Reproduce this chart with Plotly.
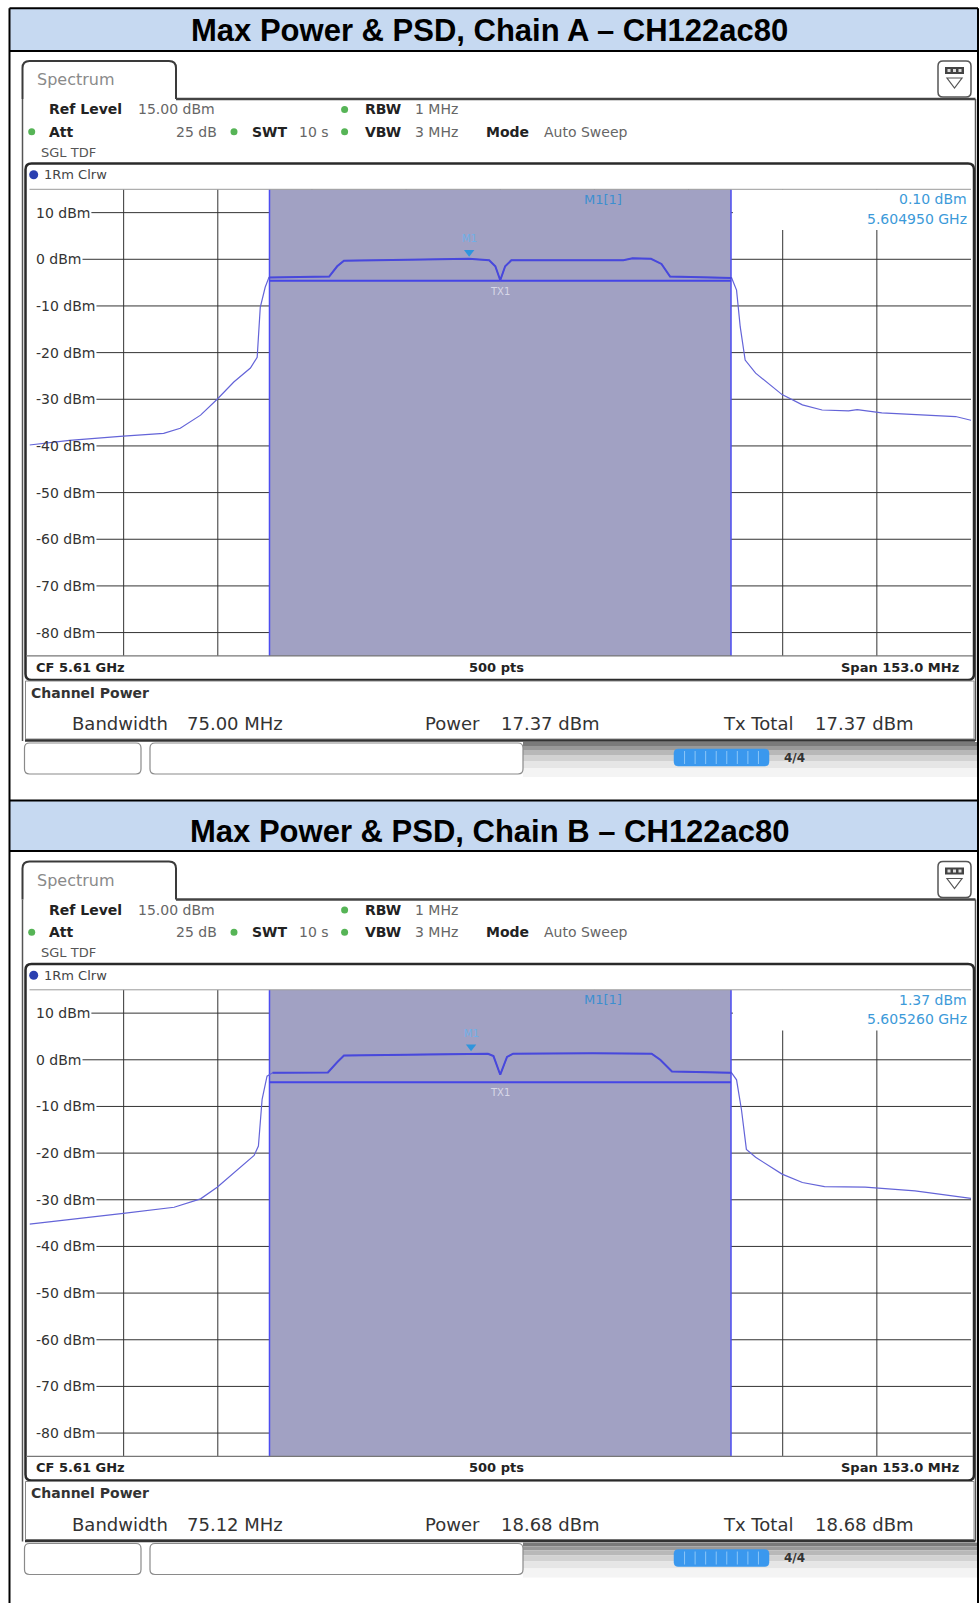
import numpy as np
import plotly.graph_objects as go

W, H = 979, 1603

# ---------------- data ----------------
CF_GHZ = 5.61
SPAN_MHZ = 153.0
REF_LEVEL = 15.0
BOTTOM_LEVEL = -85.0
CHANNEL_BW_MHZ = 75.0

Y_TICKS = [10, 0, -10, -20, -30, -40, -50, -60, -70, -80]
Y_TICK_LABELS = ["10 dBm", "0 dBm", "-10 dBm", "-20 dBm", "-30 dBm",
                 "-40 dBm", "-50 dBm", "-60 dBm", "-70 dBm", "-80 dBm"]

TITLES = ["Max Power & PSD, Chain A – CH122ac80",
          "Max Power & PSD, Chain B – CH122ac80"]

# trace, chain A (offset from CF in MHz, level in dBm)
FREQ_A = [-76.5, -70.0, -61.25, -54.7, -52.0, -48.7, -46.0, -43.3, -40.6, -39.5,
          -39.0, -38.2, -37.6, -32.0, -27.8, -26.5, -25.4, -15.0, -5.1, -1.8,
          -0.8, 0.0, 0.8, 1.8, 12.0, 20.0, 21.5, 24.5, 26.2, 27.6,
          37.6, 38.4, 39.0, 39.8, 41.5, 45.8, 49.1, 52.3, 56.6, 58.0,
          62.0, 69.0, 74.0, 76.5]
LEVEL_A = [-39.8, -38.8, -37.9, -37.3, -36.2, -33.4, -30.0, -26.3, -23.3, -21.0,
           -10.3, -6.0, -3.9, -3.8, -3.7, -1.5, -0.3, -0.1, 0.1, -0.2,
           -1.5, -4.5, -1.5, -0.2, -0.2, -0.2, 0.2, 0.1, -1.0, -3.7,
           -4.0, -6.6, -14.5, -21.6, -24.4, -29.0, -31.2, -32.3, -32.5, -32.2,
           -32.9, -33.4, -33.7, -34.5]

# trace, chain B
FREQ_B = [-76.5, -68.0, -61.25, -53.0, -48.7, -46.0, -43.3, -40.0, -39.3, -38.7,
          -37.9, -37.0, -28.0, -26.5, -25.4, -15.0, -4.7, -2.0, -1.1, 0.0,
          1.1, 2.1, 15.0, 24.6, 26.0, 27.9, 37.6, 38.4, 39.2, 40.0,
          41.5, 45.8, 49.1, 52.7, 59.3, 67.4, 76.5]
LEVEL_B = [-35.2, -34.0, -32.9, -31.6, -29.8, -27.3, -24.3, -20.5, -18.5, -8.5,
           -3.5, -2.8, -2.7, -0.5, 0.9, 1.1, 1.37, 1.3, 0.8, -3.2,
           0.6, 1.3, 1.4, 1.3, 0.0, -2.5, -2.8, -4.3, -10.7, -19.2,
           -20.9, -24.5, -26.3, -27.2, -27.3, -28.1, -29.7]

CHANNEL_LINE = [-4.6, -4.8]           # dBm, channel-power bar level
MARKER_FREQ_GHZ = [5.604950, 5.605260]
MARKER_LEVEL = [0.10, 1.37]
MARKER_LEVEL_TXT = ["0.10 dBm", "1.37 dBm"]
MARKER_FREQ_TXT = ["5.604950 GHz", "5.605260 GHz"]

BANDWIDTH_TXT = ["75.00 MHz", "75.12 MHz"]
POWER_TXT = ["17.37 dBm", "18.68 dBm"]
TX_TOTAL_TXT = ["17.37 dBm", "18.68 dBm"]

SETTINGS = {"ref": "15.00 dBm", "rbw": "1 MHz", "att": "25 dB", "swt": "10 s",
            "vbw": "3 MHz", "mode": "Auto Sweep"}

FREQS = [FREQ_A, FREQ_B]
LEVELS = [LEVEL_A, LEVEL_B]

# ---------------- layout helpers ----------------
DY = [0.0, 800.5]
PLOT_L, PLOT_R = 29.5, 971.0
PLOT_T, PLOT_B = 189.3, 655.9
TABLE_R = 978.0


def X(p):
    return p / W


def Y(p):
    return 1 - p / H


shapes = []
annotations = []
FONT = "DejaVu Sans"


def rect(x0, y0, x1, y1, fill="rgba(0,0,0,0)", lc="rgba(0,0,0,0)", lw=0):
    shapes.append(dict(type="rect", xref="paper", yref="paper", x0=X(x0), x1=X(x1),
                       y0=Y(y1), y1=Y(y0), fillcolor=fill, line=dict(color=lc, width=lw),
                       layer="above"))


def line(x0, y0, x1, y1, color, lw):
    shapes.append(dict(type="line", xref="paper", yref="paper", x0=X(x0), x1=X(x1),
                       y0=Y(y0), y1=Y(y1), line=dict(color=color, width=lw), layer="above"))


def rrect(x0, y0, x1, y1, r, lc, lw, fill="white"):
    p = (f"M {X(x0+r)},{Y(y0)} L {X(x1-r)},{Y(y0)} Q {X(x1)},{Y(y0)} {X(x1)},{Y(y0+r)} "
         f"L {X(x1)},{Y(y1-r)} Q {X(x1)},{Y(y1)} {X(x1-r)},{Y(y1)} L {X(x0+r)},{Y(y1)} "
         f"Q {X(x0)},{Y(y1)} {X(x0)},{Y(y1-r)} L {X(x0)},{Y(y0+r)} Q {X(x0)},{Y(y0)} {X(x0+r)},{Y(y0)} Z")
    shapes.append(dict(type="path", xref="paper", yref="paper", path=p, fillcolor=fill,
                       line=dict(color=lc, width=lw), layer="above"))


def circle(cx, cy, r, color):
    shapes.append(dict(type="circle", xref="paper", yref="paper", x0=X(cx-r), x1=X(cx+r),
                       y0=Y(cy+r), y1=Y(cy-r), fillcolor=color, line=dict(width=0), layer="above"))


def text(x, y, s, size=14, color="#333333", anchor="left", bold=False, family=FONT):
    annotations.append(dict(xref="paper", yref="paper", x=X(x), y=Y(y), text=(f"<b>{s}</b>" if bold else s),
                            showarrow=False, xanchor=anchor, yanchor="middle",
                            font=dict(family=family, size=size, color=color)))


DJ = {"0": .636, "1": .636, "2": .636, "3": .636, "4": .636, "5": .636, "6": .636, "7": .636,
      "8": .636, "9": .636, "-": .361, " ": .318, "d": .635, "B": .686, "m": .974}


def tw(s, size):
    return sum(DJ.get(c, .6) for c in s) * size


def px_to_f(p):
    return -SPAN_MHZ / 2 + (p - PLOT_L) / (PLOT_R - PLOT_L) * SPAN_MHZ


def py_to_db(p):
    return REF_LEVEL - (p - PLOT_T) / (PLOT_B - PLOT_T) * (REF_LEVEL - BOTTOM_LEVEL)


fig = go.Figure()

# ---------------- table frame ----------------
rect(9.5, 8.2, TABLE_R, 51, fill="#C6D9F1")
rect(9.5, 800.5, TABLE_R, 851, fill="#C6D9F1")
for yy in (8.2, 51, 800.5, 851):
    line(9.5, yy, TABLE_R, yy, "black", 2)
line(9.5, 8.2, 9.5, 1603, "black", 2)
line(TABLE_R, 8.2, TABLE_R, 1603, "black", 2)
for i, t in enumerate(TITLES):
    text(490, 30.5 + DY[i], t, size=31, color="black", anchor="center", bold=True,
         family="Liberation Sans")

half_bw = CHANNEL_BW_MHZ / 2
ticks_f = [-SPAN_MHZ / 2 + k * SPAN_MHZ / 10 for k in range(1, 10)]

for i in range(2):
    d = DY[i]
    xa = "x" if i == 0 else "x2"
    ya = "y" if i == 0 else "y2"

    # ---- window chrome ----
    p = (f"M {X(22.5)},{Y(99+d)} L {X(22.5)},{Y(68+d)} Q {X(22.5)},{Y(61+d)} {X(29.5)},{Y(61+d)} "
         f"L {X(169)},{Y(61+d)} Q {X(176)},{Y(61+d)} {X(176)},{Y(68+d)} L {X(176)},{Y(99+d)}")
    shapes.append(dict(type="path", xref="paper", yref="paper", path=p, fillcolor="white",
                       line=dict(color="#3a3a3a", width=2), layer="above"))
    text(35, 80 + d, "Spectrum", size=16, color="#8a8a8a")
    line(176, 99 + d, 975.5, 99 + d, "#444444", 2.5)
    line(22.5, 99 + d, 22.5, 741 + d, "#555555", 1.5)
    line(975.5, 99 + d, 975.5, 741 + d, "#555555", 1.5)
    # icon
    rrect(938, 61 + d, 971, 97 + d, 5, "#555555", 1.5)
    rect(945, 67 + d, 964, 74 + d, fill="#444444")
    for k in range(3):
        rect(947.5 + k * 5.5, 69 + d, 950.5 + k * 5.5, 72 + d, fill="#dddddd")
    shapes.append(dict(type="path", xref="paper", yref="paper",
                       path=f"M {X(947)},{Y(78+d)} L {X(962)},{Y(78+d)} L {X(954.5)},{Y(88+d)} Z",
                       fillcolor="white", line=dict(color="#555555", width=1.2), layer="above"))

    # settings text
    r1, r2, r3 = 109.4 + d, 131.8 + d, 152.3 + d
    text(47, r1, "Ref Level", 14, "#222222", bold=True)
    text(136, r1, SETTINGS["ref"], 14, "#666666")
    circle(344.6, r1, 3.5, "#56b456")
    text(363, r1, "RBW", 14, "#222222", bold=True)
    text(413, r1, SETTINGS["rbw"], 14, "#666666")
    circle(31.7, r2, 3.5, "#56b456")
    text(47, r2, "Att", 14, "#222222", bold=True)
    text(174, r2, SETTINGS["att"], 14, "#666666")
    circle(234, r2, 3.5, "#56b456")
    text(250, r2, "SWT", 14, "#222222", bold=True)
    text(297, r2, SETTINGS["swt"], 14, "#666666")
    circle(344.6, r2, 3.5, "#56b456")
    text(363, r2, "VBW", 14, "#222222", bold=True)
    text(413, r2, SETTINGS["vbw"], 14, "#666666")
    text(484, r2, "Mode", 14, "#222222", bold=True)
    text(542, r2, SETTINGS["mode"], 14, "#666666")
    text(39, r3, "SGL TDF", 13, "#555555")

    # diagram frame
    rrect(25.5, 163.5 + d, 974, 680 + d, 6, "#2a2a2a", 2.5, fill="rgba(0,0,0,0)")
    circle(33.7, 174.8 + d, 4.5, "#2a3fb0")
    text(42, 174.8 + d, "1Rm Clrw", 13, "#444444")
    line(PLOT_L, PLOT_T + d, PLOT_R, PLOT_T + d, "#9a9a9a", 1)
    line(26, PLOT_B + d, 973, PLOT_B + d, "#777777", 1.2)
    text(33.7, 667.4 + d, "CF 5.61 GHz", 13, "#222222", bold=True)
    text(496.7, 667.4 + d, "500 pts", 13, "#222222", anchor="center", bold=True)
    text(960.7, 667.4 + d, "Span 153.0 MHz", 13, "#222222", anchor="right", bold=True)

    # channel power panel
    rect(25.5, 681 + d, 974, 739 + d, fill="white", lc="#888888", lw=1)
    line(25, 740.5 + d, 975, 740.5 + d, "#333333", 2.5)
    text(28.6, 692.5 + d, "Channel Power", 14, "#333333", bold=True)
    text(69.5, 723.6 + d, "Bandwidth", 18, "#333333")
    text(185, 723.6 + d, BANDWIDTH_TXT[i], 18, "#333333")
    text(423, 723.6 + d, "Power", 18, "#333333")
    text(498.7, 723.6 + d, POWER_TXT[i], 18, "#333333")
    text(720.5, 723.6 + d, "Tx Total", 18, "#333333")
    text(812.5, 723.6 + d, TX_TOTAL_TXT[i], 18, "#333333")

    # status bar
    grads = ["#7a7a7a", "#999999", "#b8b8b8", "#d2d2d2", "#e6e6e6", "#f4f4f4"]
    edges = [742, 746, 750, 755, 761, 768, 777]
    for g in range(6):
        rect(523, edges[g] + d, TABLE_R - 1, edges[g + 1] + d, fill=grads[g])
    rrect(24.5, 743 + d, 141, 774 + d, 5, "#8a8a8a", 1.2)
    rrect(150, 743 + d, 523, 774 + d, 5, "#8a8a8a", 1.2)
    rrect(674, 749 + d, 769, 766 + d, 4, "#3a98ee", 0.5, fill="#3a98ee")
    for k in range(1, 9):
        xx = 674 + k * 95 / 9
        line(xx, 751 + d, xx, 764 + d, "#8cc6f7", 1)
    text(782, 757.5 + d, "4/4", 12, "#333333", bold=True)

    # ---- data-coordinate shapes ----
    for tv, tl in zip(Y_TICKS, Y_TICK_LABELS):
        f0 = px_to_f(34 + tw(tl, 14) + 3)
        shapes.append(dict(type="line", xref=xa, yref=ya, x0=f0, x1=SPAN_MHZ / 2, y0=tv, y1=tv,
                           line=dict(color="#333333", width=1), layer="below"))
        annotations.append(dict(xref="paper", yref=ya, x=X(34), y=tv, text=tl, showarrow=False,
                                xanchor="left", yanchor="middle",
                                font=dict(family=FONT, size=14, color="#333333")))
    for fv in ticks_f:
        shapes.append(dict(type="line", xref=xa, yref=ya, x0=fv, x1=fv, y0=BOTTOM_LEVEL,
                           y1=REF_LEVEL, line=dict(color="#333333", width=1), layer="below"))
    # channel shading
    shapes.append(dict(type="rect", xref=xa, yref=ya, x0=-half_bw, x1=half_bw, y0=BOTTOM_LEVEL,
                       y1=REF_LEVEL, fillcolor="#A1A1C3", line=dict(width=0), layer="below"))
    # marker readout box
    shapes.append(dict(type="rect", xref=xa, yref=ya, x0=half_bw + 0.3, x1=SPAN_MHZ / 2,
                       y0=py_to_db(230), y1=REF_LEVEL, fillcolor="white", line=dict(width=0),
                       layer="below"))
    for s in (-half_bw, half_bw):
        shapes.append(dict(type="line", xref=xa, yref=ya, x0=s, x1=s, y0=BOTTOM_LEVEL, y1=REF_LEVEL,
                           line=dict(color="#4d4df0", width=1.5), layer="below"))
    shapes.append(dict(type="line", xref=xa, yref=ya, x0=-half_bw, x1=half_bw, y0=CHANNEL_LINE[i],
                       y1=CHANNEL_LINE[i], line=dict(color="#4545e6", width=2), layer="below"))

    # ---- traces ----
    f = np.array(FREQS[i])
    lv = np.array(LEVELS[i])
    fig.add_trace(go.Scatter(x=f, y=lv, mode="lines", line=dict(color="#6464d8", width=1.2),
                             xaxis=xa, yaxis=ya, hoverinfo="skip", showlegend=False))
    ins = np.abs(f) <= half_bw + 0.2
    fig.add_trace(go.Scatter(x=f[ins], y=lv[ins], mode="lines", line=dict(color="#4848dc", width=2),
                             xaxis=xa, yaxis=ya, hoverinfo="skip", showlegend=False))
    mf = (MARKER_FREQ_GHZ[i] - CF_GHZ) * 1000
    fig.add_trace(go.Scatter(x=[mf], y=[MARKER_LEVEL[i] + 1.4], mode="markers",
                             marker=dict(symbol="triangle-down", size=9, color="#2f95dd"),
                             xaxis=xa, yaxis=ya, hoverinfo="skip", showlegend=False))
    annotations.append(dict(xref=xa, yref=ya, x=mf, y=MARKER_LEVEL[i] + 4.3, text="M1",
                            showarrow=False, font=dict(family=FONT, size=10, color="#6fb0e8")))
    annotations.append(dict(xref=xa, yref=ya, x=0, y=CHANNEL_LINE[i] - 2.3, text="TX1",
                            showarrow=False, font=dict(family=FONT, size=10, color="#d8d8e8")))
    # marker readout
    text(603, 199.3 + d, "M1[1]", 13, "#3c8fd0", anchor="center")
    text(968.8, 199.3 + d, MARKER_LEVEL_TXT[i], 14, "#3c9ad9", anchor="right")
    text(968.8, 218.7 + d, MARKER_FREQ_TXT[i], 14, "#3c9ad9", anchor="right")

for i in range(2):
    d = DY[i]
    sfx = "" if i == 0 else "2"
    ax = dict(domain=[X(PLOT_L), X(PLOT_R)], range=[-SPAN_MHZ / 2, SPAN_MHZ / 2], visible=False,
              showgrid=False, zeroline=False, anchor="y" + sfx)
    ay = dict(domain=[Y(PLOT_B + d), Y(PLOT_T + d)], range=[BOTTOM_LEVEL, REF_LEVEL], visible=False,
              showgrid=False, zeroline=False, anchor="x" + sfx)
    fig.update_layout(**{"xaxis" + sfx: ax, "yaxis" + sfx: ay})

fig.update_layout(width=W, height=H, margin=dict(l=0, r=0, t=0, b=0),
                  paper_bgcolor="white", plot_bgcolor="rgba(0,0,0,0)",
                  shapes=shapes, annotations=annotations, showlegend=False)
fig.write_html("out.html", config={"displayModeBar": False},
               post_script="document.body.style.margin='0';document.body.style.overflow='hidden';")
